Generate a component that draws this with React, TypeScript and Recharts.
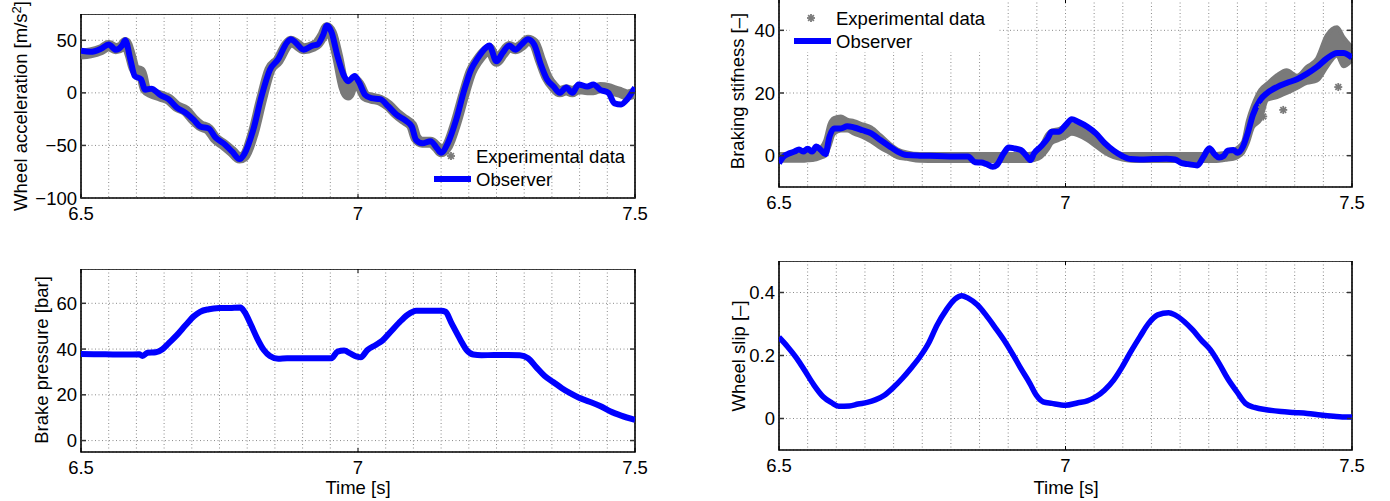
import React from 'react'
import { ComposedChart, Line, Area, Scatter, XAxis, YAxis, CartesianGrid, ReferenceArea } from 'recharts'

const FONT = '"Liberation Sans", Arial, Helvetica, sans-serif'
const BLUE = '#0000ff'
const GREY = '#7a7a7a'

// shared time axis
const xTicks = [6.5, 6.55, 6.6, 6.65, 6.7, 6.75, 6.8, 6.85, 6.9, 6.95, 7, 7.05, 7.1, 7.15, 7.2, 7.25, 7.3, 7.35, 7.4, 7.45, 7.5]
const xLabelled = [6.5, 7, 7.5]

// wheel acceleration [m/s2]
const accTime = [
  6.5, 6.517, 6.536, 6.55, 6.563, 6.574, 6.58, 6.589, 6.597, 6.608,
  6.616, 6.627, 6.643, 6.658, 6.673, 6.689, 6.704, 6.715, 6.731, 6.742,
  6.757, 6.773, 6.786, 6.795, 6.811, 6.826, 6.841, 6.856, 6.872, 6.879,
  6.887, 6.902, 6.918, 6.927, 6.937, 6.944, 6.952, 6.963, 6.975, 6.982,
  6.994, 7.002, 7.013, 7.024, 7.04, 7.055, 7.07, 7.085, 7.097, 7.105,
  7.116, 7.131, 7.143, 7.15, 7.162, 7.177, 7.192, 7.204, 7.215, 7.231,
  7.237, 7.25, 7.261, 7.273, 7.284, 7.295, 7.307, 7.318, 7.33, 7.341,
  7.353, 7.364, 7.376, 7.387, 7.398, 7.414, 7.425, 7.437, 7.452, 7.463,
  7.475, 7.486, 7.5,
]
const accObserver = [
  40, 39, 42, 46, 41, 45, 50, 32, 16, 13,
  3, 4, -2, -6, -14, -19, -26, -32, -34, -42,
  -48, -56, -63, -58, -35, -3, 22, 32, 48, 51,
  48, 41, 45, 46, 55, 64, 58, 35, 16, 11,
  16, 10, -2, -5, -6, -13, -21, -26, -32, -45,
  -48, -46, -53, -57, -48, -26, 3, 22, 32, 43,
  45, 30, 38, 45, 41, 46, 51, 46, 27, 13,
  6, 0, 5, 0, 8, 6, 8, 3, 0, -10,
  -11, -6, 5,
]
const accMeasured = [
  37, 38, 41, 45, 42, 44, 48, 36, 22, 20,
  4, 0, -3, -6, -13, -17, -26, -31, -35, -43,
  -49, -56, -62, -60, -38, -6, 22, 31, 46, 49,
  47, 42, 44, 47, 55, 62, 57, 35, 5, -2,
  12, 8, -3, -5, -7, -12, -20, -26, -31, -43,
  -47, -47, -52, -56, -50, -28, 0, 20, 30, 40,
  42, 30, 37, 44, 42, 45, 50, 47, 30, 15,
  6, 1, 3, 1, 4, 3, 3, 5, 4, 2,
  0, -2, 0,
]
const accTicks = [-100, -50, 0, 50]

// brake pressure [bar]
const pressTime = [
  6.5, 6.544, 6.582, 6.605, 6.611, 6.62, 6.635, 6.647, 6.658, 6.673,
  6.689, 6.704, 6.715, 6.731, 6.75, 6.769, 6.788, 6.795, 6.807, 6.818,
  6.83, 6.841, 6.856, 6.872, 6.902, 6.933, 6.952, 6.963, 6.975, 6.986,
  6.998, 7.005, 7.017, 7.032, 7.044, 7.059, 7.074, 7.089, 7.105, 7.124,
  7.15, 7.158, 7.169, 7.185, 7.196, 7.208, 7.223, 7.246, 7.269, 7.292,
  7.307, 7.322, 7.337, 7.353, 7.368, 7.383, 7.398, 7.418, 7.437, 7.456,
  7.475, 7.5,
]
const pressure = [
  37.8, 37.7, 37.6, 37.7, 37.0, 38.4, 38.6, 39.9, 42.5, 46.1,
  50.5, 54.4, 56.3, 57.4, 57.9, 58.0, 58.2, 56.3, 50.5, 44.7,
  39.6, 37.0, 35.8, 36.0, 36.0, 36.0, 36.0, 38.9, 39.4, 38.1,
  36.7, 36.4, 39.6, 41.8, 43.7, 47.6, 51.5, 54.9, 56.8, 56.8,
  56.8, 56.3, 51.2, 44.0, 39.6, 37.6, 37.3, 37.4, 37.4, 37.3,
  36.0, 32.0, 28.2, 25.5, 22.9, 20.7, 18.8, 17.0, 15.1, 12.7,
  10.9, 9.0,
]
const pressTicks = [0, 20, 40, 60]

// braking stiffness [-]
const stiffTime = [
  6.5, 6.508, 6.515, 6.527, 6.535, 6.542, 6.55, 6.558, 6.565, 6.573,
  6.581, 6.588, 6.596, 6.608, 6.619, 6.631, 6.646, 6.661, 6.677, 6.692,
  6.707, 6.723, 6.746, 6.776, 6.807, 6.83, 6.842, 6.853, 6.861, 6.873,
  6.88, 6.892, 6.901, 6.911, 6.922, 6.932, 6.939, 6.945, 6.957, 6.969,
  6.976, 6.988, 7.0, 7.011, 7.022, 7.038, 7.053, 7.068, 7.084, 7.099,
  7.114, 7.13, 7.153, 7.176, 7.191, 7.203, 7.214, 7.23, 7.241, 7.251,
  7.26, 7.268, 7.276, 7.283, 7.293, 7.3, 7.31, 7.318, 7.327, 7.34,
  7.352, 7.369, 7.386, 7.404, 7.421, 7.439, 7.456, 7.474, 7.485, 7.5,
]
const stiffObserver = [
  -2.4, -0.3, 0.5, 1.3, 2.0, 1.3, 2.2, 1.3, 2.9, 1.8,
  0.5, 6.0, 8.7, 8.7, 9.4, 9.0, 8.1, 7.1, 5.0, 3.1,
  1.3, 0.2, 0, -0.1, -0.3, -0.3, -2.1, -2.2, -2.6, -3.5,
  -3.0, 0.7, 2.6, 2.3, 1.8, -0.1, -1.4, 0.7, 2.9, 5.5,
  7.6, 7.6, 9.7, 11.6, 10.8, 9.2, 7.1, 4.1, 1.6, -0.1,
  -1.1, -1.2, -1.1, -1.0, -1.2, -2.4, -2.7, -3.1, -0.3, 2.4,
  0.5, -0.6, -0.1, 1.6, 1.8, 0.9, 3.0, 7.2, 13.0, 17.8,
  20.0, 21.9, 23.2, 24.4, 26.1, 28.3, 31.0, 32.8, 32.8, 31.3,
]
// spread of the measured points (lower / upper edge of the grey cloud)
const stiffLow = [
  -1.6, -1.6, -1.6, -1.6, -1.6, -1.6, -1.5, -1.4, -1.2, -0.6,
  0, 3, 7, 8, 8, 7, 6, 4.5, 2.5, 1,
  -0.5, -1, -1.6, -1.7, -1.7, -1.7, -1.7, -1.7, -1.7, -1.7,
  -1.7, -1.7, -1.7, -1.7, -1.7, -1.7, -1.6, -1.4, -0.5, 2,
  4, 5, 6, 7, 6.5, 5, 3, 1, -0.5, -1.2,
  -1.6, -1.7, -1.7, -1.7, -1.7, -1.7, -1.7, -1.7, -1.7, -1.7,
  -1.7, -1.6, -1.4, -1.2, -1, -0.5, 1, 4, 9, 11.4,
  17.8, 18.7, 20, 21.6, 23.2, 24, 28.3, 32, 28.5, 30.5,
]
const stiffHigh = [
  0.5, 0.5, 0.4, 0.4, 0.4, 0.5, 0.6, 0.8, 1.2, 2.5,
  5, 10, 12, 12.5, 11.5, 11, 10, 9, 6.5, 4,
  2, 1, 0.5, 0.5, 0.5, 0.5, 0.5, 0.5, 0.5, 0.5,
  0.5, 0.5, 0.5, 0.5, 0.5, 0.5, 0.6, 0.9, 3, 7,
  8, 8.5, 9.5, 10, 9.5, 8, 6, 3.5, 1.5, 0.5,
  0.5, 0.5, 0.5, 0.5, 0.5, 0.5, 0.5, 0.5, 0.5, 0.5,
  0.5, 0.6, 0.8, 1, 1.5, 2.5, 4.5, 11, 16, 21,
  23, 25.7, 27.3, 25.5, 28.3, 31, 38.4, 41, 37.8, 34.6,
]
const stiffOutlierTime = [7.343, 7.345, 7.38, 7.476]
const stiffOutlierValue = [15.5, 12.5, 14.6, 21.9]
const stiffTicks = [0, 20, 40]

// wheel slip [-]
const slipTime = [
  6.5, 6.515, 6.531, 6.546, 6.561, 6.577, 6.592, 6.604, 6.623, 6.638,
  6.654, 6.669, 6.684, 6.7, 6.715, 6.73, 6.746, 6.761, 6.776, 6.792,
  6.807, 6.819, 6.83, 6.846, 6.861, 6.876, 6.892, 6.907, 6.922, 6.938,
  6.949, 6.961, 6.976, 7.0, 7.022, 7.038, 7.053, 7.068, 7.084, 7.099,
  7.114, 7.13, 7.145, 7.161, 7.18, 7.191, 7.207, 7.222, 7.237, 7.253,
  7.268, 7.283, 7.299, 7.314, 7.33, 7.353, 7.376, 7.399, 7.422, 7.445,
  7.468, 7.483, 7.5,
]
const slip = [
  0.258, 0.228, 0.191, 0.149, 0.106, 0.069, 0.050, 0.039, 0.040, 0.046,
  0.051, 0.060, 0.074, 0.099, 0.127, 0.159, 0.196, 0.239, 0.297, 0.345,
  0.379, 0.390, 0.382, 0.361, 0.329, 0.292, 0.251, 0.207, 0.159, 0.111,
  0.074, 0.053, 0.048, 0.042, 0.050, 0.056, 0.069, 0.090, 0.122, 0.164,
  0.212, 0.260, 0.302, 0.329, 0.336, 0.329, 0.308, 0.281, 0.249, 0.218,
  0.175, 0.127, 0.085, 0.048, 0.035, 0.027, 0.022, 0.019, 0.016, 0.011,
  0.007, 0.005, 0.005,
]
const slipTicks = [0, 0.2, 0.4]

const accData = accTime.map((t, i) => ({ t, obs: accObserver[i], exp: accMeasured[i] }))
const pressData = pressTime.map((t, i) => ({ t, obs: pressure[i] }))
const stiffData = stiffTime.map((t, i) => ({ t, obs: stiffObserver[i], exp: [stiffLow[i], stiffHigh[i]] }))
const stiffOutliers = stiffOutlierTime.map((t, i) => ({ t, v: stiffOutlierValue[i] }))
const slipData = slipTime.map((t, i) => ({ t, obs: slip[i] }))

const YAXIS_W = 70
const XAXIS_H = 32
const RIGHT_PAD = 20
const TICK_FONT = 18.5

const fmtY = (v: number) => String(v).replace('-', '\u2212')

function Asterisk({ cx, cy, r = 4 }: { cx: number; cy: number; r?: number }) {
  const d = r * 0.72
  return (
    <g stroke={GREY} strokeWidth={1.8}>
      <line x1={cx - r} y1={cy} x2={cx + r} y2={cy} />
      <line x1={cx} y1={cy - r} x2={cx} y2={cy + r} />
      <line x1={cx - d} y1={cy - d} x2={cx + d} y2={cy + d} />
      <line x1={cx - d} y1={cy + d} x2={cx + d} y2={cy - d} />
    </g>
  )
}

type PanelProps = {
  left: number
  top: number
  width: number
  height: number
  yDomain: [number, number]
  yTicks: number[]
  data: any[]
  children: React.ReactNode
}

// left/top/width/height give the plotting box in page pixels
function Panel({ left, top, width, height, yDomain, yTicks, data, children }: PanelProps) {
  const x0 = YAXIS_W
  const x1 = YAXIS_W + width

  // matlab style: label outside, short tick marks pointing into the box
  const renderXTick = (p: any) => {
    const v = p.payload.value
    if (!xLabelled.includes(v)) return <g />
    return (
      <g>
        <line x1={p.x} x2={p.x} y1={height} y2={height - 4} stroke="#000" />
        <line x1={p.x} x2={p.x} y1={0} y2={4} stroke="#000" />
        <text x={p.x} y={p.y} dy="0.71em" textAnchor="middle" fontFamily={FONT} fontSize={TICK_FONT} fill="#000">
          {String(v)}
        </text>
      </g>
    )
  }
  const renderYTick = (p: any) => (
    <g>
      <line x1={x0} x2={x0 + 5} y1={p.y} y2={p.y} stroke="#333" strokeWidth={1.5} />
      <line x1={x1 - 5} x2={x1} y1={p.y} y2={p.y} stroke="#333" strokeWidth={1.5} />
      <text x={p.x} y={p.y} dy="0.355em" textAnchor="end" fontFamily={FONT} fontSize={TICK_FONT} fill="#000">
        {fmtY(p.payload.value)}
      </text>
    </g>
  )

  return (
    <div style={{ position: 'absolute', left: left - YAXIS_W, top }}>
      <ComposedChart
        width={width + YAXIS_W + RIGHT_PAD}
        height={height + XAXIS_H}
        data={data}
        margin={{ top: 0, right: RIGHT_PAD, bottom: 0, left: 0 }}
      >
        <CartesianGrid stroke="#8a8a8a" strokeDasharray="1 2.5" />
        <XAxis
          dataKey="t"
          type="number"
          domain={[6.5, 7.5]}
          ticks={xTicks}
          interval={0}
          height={XAXIS_H}
          axisLine={false}
          tickLine={false}
          tickSize={6}
          tickMargin={3}
          tick={renderXTick}
          allowDataOverflow
        />
        <YAxis
          type="number"
          domain={yDomain}
          ticks={yTicks}
          interval={0}
          width={YAXIS_W}
          axisLine={false}
          tickLine={false}
          tickSize={2}
          tickMargin={2}
          tick={renderYTick}
          allowDataOverflow
        />
        {children}
        <ReferenceArea
          x1={6.5}
          x2={7.5}
          y1={yDomain[0]}
          y2={yDomain[1]}
          fill="none"
          stroke="#000"
          strokeWidth={1.6}
          ifOverflow="visible"
        />
      </ComposedChart>
    </div>
  )
}

function AxisTitle({ x, y, rotate, children }: { x: number; y: number; rotate?: boolean; children: React.ReactNode }) {
  return (
    <div
      style={{
        position: 'absolute',
        left: x,
        top: y,
        transform: `translate(-50%, -50%)${rotate ? ' rotate(-90deg)' : ''}`,
        whiteSpace: 'nowrap',
        fontFamily: FONT,
        fontSize: 18.5,
        lineHeight: 1,
        color: '#000',
      }}
    >
      {children}
    </div>
  )
}

// legend: textX is where the labels start, rowY the centre of the first row;
// the upper-right one sits on a white box, the lower-left one is see-through
function SeriesLegend({ textX, rowY, boxW, boxed }: { textX: number; rowY: number; boxW: number; boxed?: boolean }) {
  const left = textX - 46
  const top = rowY - 18
  const h = 52
  return (
    <svg style={{ position: 'absolute', left, top }} width={boxW} height={h}>
      {boxed && <rect x={0} y={0} width={boxW} height={h} fill="#fff" />}
      <Asterisk cx={21} cy={18} />
      <line x1={4} y1={41} x2={41} y2={41} stroke={BLUE} strokeWidth={6} />
      <text x={46} y={18} dominantBaseline="central" fontFamily={FONT} fontSize={18.5}>
        Experimental data
      </text>
      <text x={46} y={41} dominantBaseline="central" fontFamily={FONT} fontSize={18.5}>
        Observer
      </text>
    </svg>
  )
}

export default function App() {
  return (
    <div style={{ position: 'absolute', left: 0, top: 0, width: 1390, height: 501, background: '#fff', overflow: 'hidden' }}>
      <Panel left={81} top={14} width={554} height={184} yDomain={[-100, 75]} yTicks={accTicks} data={accData}>
        <Line dataKey="exp" type="monotone" stroke={GREY} strokeWidth={11} dot={false} activeDot={false} isAnimationActive={false} />
        <Line dataKey="obs" type="monotone" stroke={BLUE} strokeWidth={6} dot={false} activeDot={false} isAnimationActive={false} />
      </Panel>

      <Panel left={779} top={-1} width={573} height={188} yDomain={[-10, 50]} yTicks={stiffTicks} data={stiffData}>
        <Area dataKey="exp" type="monotone" stroke={GREY} strokeWidth={4} fill={GREY} fillOpacity={1} dot={false} activeDot={false} isAnimationActive={false} />
        <Scatter data={stiffOutliers} dataKey="v" shape={(p: any) => <Asterisk cx={p.cx} cy={p.cy} />} isAnimationActive={false} />
        <Line dataKey="obs" type="monotone" stroke={BLUE} strokeWidth={6} dot={false} activeDot={false} isAnimationActive={false} />
      </Panel>

      <Panel left={81} top={269} width={554} height={183} yDomain={[-5, 75]} yTicks={pressTicks} data={pressData}>
        <Line dataKey="obs" type="monotone" stroke={BLUE} strokeWidth={6} dot={false} activeDot={false} isAnimationActive={false} />
      </Panel>

      <Panel left={779} top={261} width={573} height={189} yDomain={[-0.1, 0.5]} yTicks={slipTicks} data={slipData}>
        <Line dataKey="obs" type="monotone" stroke={BLUE} strokeWidth={5.5} dot={false} activeDot={false} isAnimationActive={false} />
      </Panel>

      <SeriesLegend textX={476} rowY={156} boxW={200} />
      <SeriesLegend textX={836} rowY={18} boxW={207} boxed />

      <AxisTitle x={21} y={106} rotate>
        Wheel acceleration [m/s<sup style={{ fontSize: '0.7em', verticalAlign: '0.45em', lineHeight: 0 }}>2</sup>]
      </AxisTitle>
      <AxisTitle x={42} y={360} rotate>
        Brake pressure [bar]
      </AxisTitle>
      <AxisTitle x={738} y={91} rotate>
        Braking stifness [–]
      </AxisTitle>
      <AxisTitle x={739} y={356} rotate>
        Wheel slip [–]
      </AxisTitle>
      <AxisTitle x={358} y={488}>Time [s]</AxisTitle>
      <AxisTitle x={1066} y={488}>Time [s]</AxisTitle>
    </div>
  )
}
